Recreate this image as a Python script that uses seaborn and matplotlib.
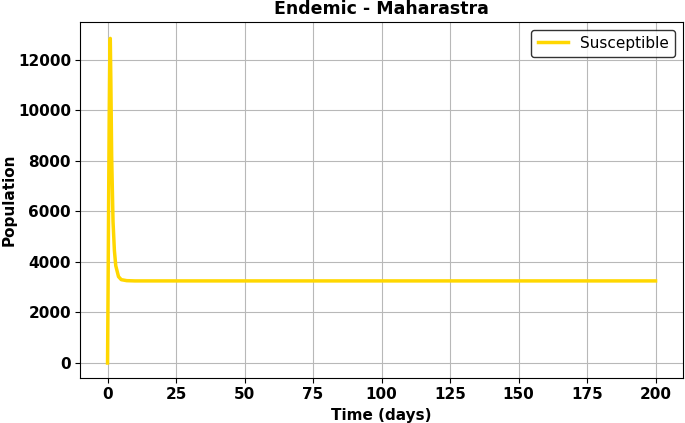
import pandas as pd
import seaborn as sns
import matplotlib.pyplot as plt

## values
time_days = [0, 0.2, 0.4, 0.6, 0.8, 1.0, 1.2, 1.5, 2.0, 2.5, 3.0, 4.0, 5.0, 7.0, 10.0, 50.0, 100.0, 150.0, 200.0]
susceptible = [0, 3000, 6500, 9600, 12000, 12850, 11200, 8200, 5600, 4450, 3850, 3420, 3300, 3260, 3250, 3250, 3250, 3250, 3250]

df = pd.DataFrame({'Time': time_days, 'Susceptible': susceptible})

fig, ax = plt.subplots(figsize=(6.85, 4.23), dpi=100)
sns.lineplot(data=df, x='Time', y='Susceptible', color='#FFD700', linewidth=2.5,
             label='Susceptible', ax=ax)

ax.set_title('Endemic - Maharastra', fontweight='bold', fontsize=12.5)
ax.set_xlabel('Time (days)', fontweight='bold', fontsize=11)
ax.set_ylabel('Population', fontweight='bold', fontsize=11, labelpad=1)
ax.set_xlim(-10, 210)
ax.set_ylim(-600, 13500)
for lbl in ax.get_xticklabels() + ax.get_yticklabels():
    lbl.set_fontweight('bold')
ax.tick_params(labelsize=11, pad=3)
ax.grid(True, color='#b8b8b8', linewidth=0.8)
ax.legend(loc='upper right', fontsize=11, edgecolor='black')

fig.subplots_adjust(left=0.117, right=0.997, top=0.948, bottom=0.106)
fig.savefig('out.png', dpi=100)
